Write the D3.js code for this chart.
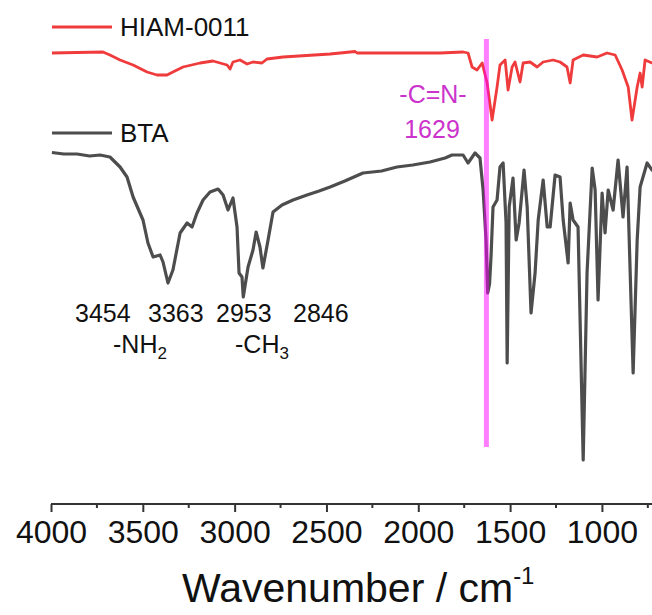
<!DOCTYPE html>
<html>
<head>
<meta charset="utf-8">
<script src="https://cdn.jsdelivr.net/npm/d3@7"></script>
<style>
  body { margin: 0; background: #fff; }
  svg { display: block; font-family: Arial, "Liberation Sans", sans-serif; }
</style>
</head>
<body>
<div id="chart"></div>
<script>
// Wavenumber (cm-1) and transmittance (a.u., offset per trace)
const btaWave = [3995, 3930, 3858, 3790, 3733, 3679, 3624, 3586, 3553, 3499, 3472, 3444, 3406, 3390, 3363, 3336, 3297, 3259, 3232, 3205, 3172, 3134, 3090, 3063, 3036, 3009, 2987, 2976, 2960, 2953, 2927, 2900, 2883, 2862, 2846, 2818, 2791, 2742, 2682, 2606, 2540, 2480, 2400, 2301, 2200, 2116, 2030, 1936, 1854, 1816, 1756, 1729, 1691, 1664, 1647, 1631, 1622, 1612, 1604, 1593, 1571, 1555, 1538, 1522, 1516, 1505, 1484, 1467, 1451, 1424, 1407, 1386, 1364, 1347, 1320, 1298, 1282, 1255, 1228, 1211, 1184, 1173, 1157, 1130, 1102, 1081, 1053, 1037, 1021, 999, 983, 966, 939, 912, 885, 863, 830, 808, 792, 754, 727, 700];
const btaT    = [70.3, 70.0, 70.0, 69.6, 69.8, 69.4, 67.4, 65.4, 61.4, 56.8, 52.2, 49.4, 49.8, 48.4, 44.2, 46.8, 54.2, 56.2, 55.4, 58.2, 60.8, 62.4, 63.0, 61.8, 58.8, 61.2, 55.4, 46.2, 45.4, 41.4, 47.4, 50.8, 54.4, 51.4, 47.2, 52.8, 58.4, 59.8, 60.8, 61.8, 62.6, 63.4, 64.6, 66.2, 66.6, 67.4, 67.8, 68.4, 69.2, 69.8, 69.8, 68.2, 70.2, 69.2, 62.8, 52.8, 42.2, 44.0, 49.4, 59.4, 60.8, 67.4, 68.2, 56.2, 28.2, 59.4, 65.2, 52.8, 56.2, 66.8, 59.4, 38.2, 46.2, 56.8, 64.8, 55.4, 55.4, 65.8, 65.4, 56.8, 48.2, 60.2, 56.8, 55.4, 8.8, 46.2, 67.2, 62.8, 40.8, 62.2, 54.2, 62.8, 58.8, 68.8, 57.4, 67.4, 26.2, 52.8, 63.4, 68.2, 66.8, 66.0];

const hiamWave = [3995, 3717, 3679, 3624, 3553, 3477, 3423, 3368, 3336, 3281, 3188, 3118, 3041, 3025, 3009, 2971, 2932, 2900, 2851, 2824, 2736, 2480, 2344, 2333, 2116, 1881, 1756, 1729, 1707, 1680, 1652, 1625, 1598, 1571, 1555, 1527, 1511, 1489, 1473, 1446, 1429, 1391, 1353, 1320, 1266, 1228, 1190, 1173, 1157, 1102, 1026, 972, 928, 890, 857, 836, 808, 792, 781, 765, 727, 700];
const hiamT    = [90.2, 90.4, 89.8, 88.8, 87.8, 86.4, 85.8, 85.8, 86.4, 87.4, 88.2, 88.6, 87.8, 87.0, 88.4, 88.8, 88.0, 88.4, 88.2, 89.0, 89.4, 90.0, 90.5, 90.2, 90.2, 90.2, 90.4, 90.2, 87.4, 86.8, 88.2, 84.2, 76.8, 83.4, 87.8, 88.8, 82.8, 87.4, 88.4, 84.4, 88.2, 88.4, 87.4, 88.4, 88.8, 88.4, 87.4, 84.2, 88.8, 89.8, 89.4, 90.2, 89.8, 86.8, 83.4, 76.8, 83.4, 86.2, 83.4, 88.8, 88.2, 88.0];

const seriesNames = ["HIAM-0011", "BTA"];
const seriesColors = ["#ef3b3b", "#4d4d4d"];
const majorTicks = [4000, 3500, 3000, 2500, 2000, 1500, 1000];
const minorTicks = [3750, 3250, 2750, 2250, 1750, 1250, 750];
const markerWave = 1629;
const peakLabels = ["3454", "3363", "2953", "2846"];

const width = 652, height = 615;
const svg = d3.select("#chart").append("svg")
  .attr("width", width)
  .attr("height", height);

// scales: x runs past the right edge, as in the cropped figure
const x = d3.scaleLinear().domain([4000, 650]).range([51, 51 + 3350 * 0.18364]);
const y = d3.scaleLinear().domain([0, 100]).range([504, 4]);
const axisY = 504;

// x axis
const xAxisG = svg.append("g")
  .attr("transform", `translate(0,${axisY})`)
  .call(d3.axisBottom(x).tickValues(majorTicks).tickSizeInner(8).tickSizeOuter(0).tickPadding(8).tickFormat(d3.format("d")));
xAxisG.select(".domain").attr("stroke", "#333").attr("stroke-width", 2)
  .attr("d", `M${x(4000)},0H${width + 20}`);
xAxisG.selectAll(".tick line").attr("stroke", "#333").attr("stroke-width", 2);
xAxisG.selectAll(".tick text")
  .attr("font-size", "32px")
  .attr("font-family", "Arial, 'Liberation Sans', sans-serif")
  .attr("fill", "#111")
  .attr("dy", 0)
  .attr("y", 39);

xAxisG.selectAll(".minor")
  .data(minorTicks)
  .enter().append("line")
  .attr("class", "minor")
  .attr("x1", d => x(d)).attr("x2", d => x(d))
  .attr("y1", 0).attr("y2", 4)
  .attr("stroke", "#333").attr("stroke-width", 2);

// axis title
const title = svg.append("text")
  .attr("x", 182)
  .attr("y", 602)
  .attr("font-size", "41px")
  .attr("fill", "#111");
title.append("tspan").text("Wavenumber / cm");
title.append("tspan").attr("font-size", "24px").attr("dy", -18).text("-1");

// spectra
const line = d3.line()
  .x(d => x(d[0]))
  .y(d => y(d[1]));

const hiam = hiamWave.map((w, i) => [w, hiamT[i]]);
const bta = btaWave.map((w, i) => [w, btaT[i]]);

svg.append("path")
  .datum(hiam)
  .attr("fill", "none")
  .attr("stroke", seriesColors[0])
  .attr("stroke-width", 2.8)
  .attr("stroke-linejoin", "round")
  .attr("d", line);

svg.append("path")
  .datum(bta)
  .attr("fill", "none")
  .attr("stroke", seriesColors[1])
  .attr("stroke-width", 3.2)
  .attr("stroke-linejoin", "round")
  .attr("d", line);

// -C=N- marker line
svg.append("line")
  .attr("x1", x(markerWave)).attr("x2", x(markerWave))
  .attr("y1", 39).attr("y2", 447)
  .attr("stroke", "#ff00ff")
  .attr("stroke-opacity", 0.5)
  .attr("stroke-width", 5);

svg.append("text")
  .attr("x", 433).attr("y", 103)
  .attr("text-anchor", "middle")
  .attr("font-size", "25px")
  .attr("fill", "#cc33cc")
  .text("-C=N-");
svg.append("text")
  .attr("x", 432).attr("y", 138)
  .attr("text-anchor", "middle")
  .attr("font-size", "25px")
  .attr("fill", "#cc33cc")
  .text(String(markerWave));

// legend
const legendY = [27, 133];
seriesNames.forEach((name, i) => {
  svg.append("line")
    .attr("x1", 52).attr("x2", 112)
    .attr("y1", legendY[i]).attr("y2", legendY[i])
    .attr("stroke", seriesColors[i])
    .attr("stroke-width", 3);
  svg.append("text")
    .attr("x", 120).attr("y", legendY[i] + 9)
    .attr("font-size", "26px")
    .attr("fill", "#111")
    .text(name);
});

// peak annotations
const peakX = [75, 148, 216, 293];
svg.selectAll(".peak")
  .data(peakLabels)
  .enter().append("text")
  .attr("class", "peak")
  .attr("x", (d, i) => peakX[i])
  .attr("y", 322)
  .attr("font-size", "25px")
  .attr("fill", "#111")
  .text(d => d);

const groups = [["-NH", "2", 113], ["-CH", "3", 235]];
groups.forEach(([base, sub, gx]) => {
  const t = svg.append("text")
    .attr("x", gx).attr("y", 353)
    .attr("font-size", "25px")
    .attr("fill", "#111");
  t.append("tspan").text(base);
  t.append("tspan").attr("font-size", "17px").attr("dy", 6).text(sub);
});
</script>
</body>
</html>
